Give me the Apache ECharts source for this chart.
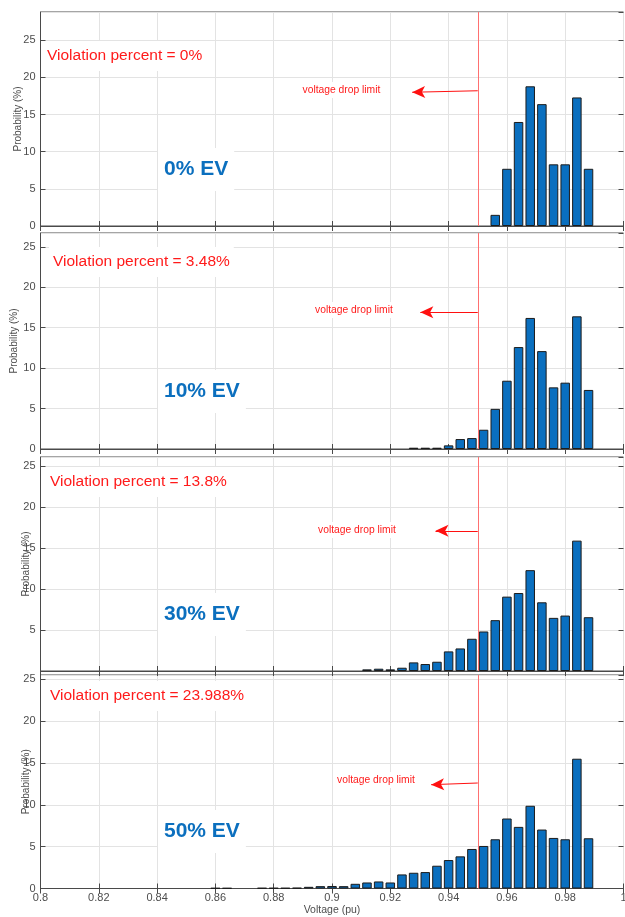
<html>
<head>
<meta charset="utf-8" />
<script src='https://cdn.jsdelivr.net/npm/echarts@6/dist/echarts.min.js'></script>
<style type="text/css">
	html, body, #main {
	width: 100%;
	height: 100%;
	margin: 0;
	background: #fff;
}
</style>
</head>
<body>
	<div id='main'></div>
	<script>
		// histogram bins (bin centre, pu) and probability (%) for each EV share
		var volt0 = [0.956, 0.960, 0.964, 0.968, 0.972, 0.976, 0.980, 0.984, 0.988];
		var prob0 = [1.5, 7.7, 14.0, 18.8, 16.4, 8.3, 8.3, 17.3, 7.7];

		var volt10 = [0.928, 0.932, 0.936, 0.940, 0.944, 0.948, 0.952, 0.956, 0.960, 0.964, 0.968, 0.972, 0.976, 0.980, 0.984, 0.988];
		var prob10 = [0.16, 0.16, 0.16, 0.45, 1.23, 1.35, 2.38, 4.96, 8.44, 12.6, 16.2, 12.1, 7.62, 8.2, 16.4, 7.3];

		var volt30 = [0.912, 0.916, 0.920, 0.924, 0.928, 0.932, 0.936, 0.940, 0.944, 0.948, 0.952, 0.956, 0.960, 0.964, 0.968, 0.972, 0.976, 0.980, 0.984, 0.988];
		var prob30 = [0.2, 0.28, 0.2, 0.4, 1.05, 0.85, 1.13, 2.39, 2.75, 3.93, 4.82, 6.2, 9.07, 9.51, 12.3, 8.38, 6.48, 6.76, 15.9, 6.56];

		var volt50 = [0.860, 0.864, 0.876, 0.880, 0.884, 0.888, 0.892, 0.896, 0.900, 0.904, 0.908, 0.912, 0.916, 0.920, 0.924, 0.928, 0.932, 0.936, 0.940, 0.944, 0.948, 0.952, 0.956, 0.960, 0.964, 0.968, 0.972, 0.976, 0.980, 0.984, 0.988];
		var prob50 = [0.05, 0.05, 0.06, 0.06, 0.06, 0.08, 0.2, 0.28, 0.3, 0.28, 0.56, 0.72, 0.84, 0.72, 1.68, 1.88, 1.96, 2.72, 3.4, 3.84, 4.72, 5.08, 5.88, 8.36, 7.36, 9.88, 7.04, 6.04, 5.88, 15.5, 6.0];

		var evLabels = ['0% EV', '10% EV', '30% EV', '50% EV'];
		var violation = ['0%', '3.48%', '13.8%', '23.988%'];

		var limitVoltage = 0.95;
		// arrow of the "voltage drop limit" note: tip voltage, start / tip probability
		var arrowTip = [0.9275, 0.9303, 0.9355, 0.934];
		var arrowStartY = [18.2, 16.9, 17.1, 12.6];
		var arrowEndY = [18.0, 16.9, 17.1, 12.4];

		var xTicks = { min: 0.8, max: 1.0, interval: 0.02 };
		var yTop = [28.8, 26.7, 26.1, 25.5];

		var volts = [volt0, volt10, volt30, volt50];
		var probs = [prob0, prob10, prob30, prob50];

		// layout
		var gLeft = 40.5, gWidth = 583;
		var gTops = [12, 233, 457, 675];
		var gHeights = [214, 216, 214, 213.5];
		var nameGaps = [17, 21, 9, 9];
		var noteX = [43, 49, 46, 46];
		var noteY = [57, 263, 483, 697];
		var evY = [170, 392, 615, 832];
		var limitTextX = [302.5, 315, 318, 337];
		var limitTextY = [91, 311, 531, 781];

		var fontFam = '"Liberation Sans", Arial, sans-serif';
		var axisCol = '#4a4a4a';
		var labelCol = '#4d4d4d';

		var chart = echarts.init(document.getElementById('main'));

		var grids = [], xAxes = [], yAxes = [], series = [], graphics = [];

		for (var i = 0; i < 4; i++) {
			grids.push({
				left: gLeft, top: gTops[i], width: gWidth, height: gHeights[i],
				show: true, borderColor: axisCol, borderWidth: 1,
				backgroundColor: '#fff',
				outerBoundsMode: 'none', containLabel: false
			});

			// bottom x axis
			xAxes.push({
				type: 'value', gridIndex: i, position: 'bottom',
				min: xTicks.min, max: xTicks.max, interval: xTicks.interval,
				axisLine: { show: true, onZero: false, lineStyle: { color: axisCol, width: 1 } },
				axisTick: { show: true, inside: true, length: 5, lineStyle: { color: axisCol } },
				axisLabel: {
					show: i === 3, color: labelCol, fontSize: 11, margin: 4, fontFamily: fontFam
				},
				splitLine: { show: true, lineStyle: { color: '#e3e3e3', width: 1 } },
				name: i === 3 ? 'Voltage (pu)' : '',
				nameLocation: 'middle', nameGap: 16, nameMoveOverlap: false,
				nameTextStyle: { color: labelCol, fontSize: 10.5, fontFamily: fontFam }
			});
			// top mirror axis (ticks only)
			xAxes.push({
				type: 'value', gridIndex: i, position: 'top',
				min: xTicks.min, max: xTicks.max, interval: xTicks.interval,
				axisLine: { show: false },
				axisTick: { show: true, inside: true, length: 5, lineStyle: { color: axisCol } },
				axisLabel: { show: false },
				splitLine: { show: false }
			});

			yAxes.push({
				type: 'value', gridIndex: i, position: 'left',
				min: 0, max: yTop[i], interval: 5,
				axisLine: { show: true, onZero: false, lineStyle: { color: axisCol, width: 1 } },
				axisTick: { show: true, inside: true, length: 5, lineStyle: { color: axisCol } },
				axisLabel: {
					color: labelCol, fontSize: 11, margin: 5, fontFamily: fontFam,
					showMaxLabel: false, showMinLabel: i !== 2,
					formatter: function (v) { return (v % 5 === 0) ? String(v) : ''; }
				},
				splitLine: { show: true, lineStyle: { color: '#e3e3e3', width: 1 } },
				name: 'Probability (%)', nameLocation: 'middle', nameRotate: 90,
				nameGap: nameGaps[i], nameMoveOverlap: false,
				nameTextStyle: { color: labelCol, fontSize: 10, fontFamily: fontFam }
			});
			yAxes.push({
				type: 'value', gridIndex: i, position: 'right',
				min: 0, max: yTop[i], interval: 5,
				axisLine: { show: false },
				axisTick: { show: true, inside: true, length: 5, lineStyle: { color: axisCol } },
				axisLabel: { show: false },
				splitLine: { show: false }
			});

			var pts = [];
			for (var k = 0; k < volts[i].length; k++) {
				pts.push([volts[i][k], probs[i][k]]);
			}

			series.push({
				type: 'bar', xAxisIndex: i * 2, yAxisIndex: i * 2,
				data: pts, barWidth: 9.5, z: 5,
				itemStyle: { color: '#0a6fbf', borderColor: '#1c1c1c', borderWidth: 1 },
				silent: true,
				markLine: {
					silent: true, animation: false, z: 120,
					label: { show: false },
					data: [
						[{ coord: [limitVoltage, 0], symbol: 'none' }, { coord: [limitVoltage, yTop[i]], symbol: 'none',
							lineStyle: { color: '#ff7070', width: 1, type: 'solid' } }],
						[{ coord: [limitVoltage, arrowStartY[i]], symbol: 'none' },
						 { coord: [arrowTip[i], arrowEndY[i]], symbol: 'arrow', symbolSize: [9, 13],
							lineStyle: { color: '#ff1010', width: 1, type: 'solid' } }]
					],
					lineStyle: { color: '#ff1010', width: 1, type: 'solid' },
					itemStyle: { color: '#ff1010' }
				}
			});

			graphics.push({
				type: 'text', left: noteX[i], top: noteY[i] - 16, z: 100,
				style: {
					text: 'Violation percent = ' + violation[i],
					fill: '#ff1a1a', fontSize: 15.5, fontFamily: fontFam,
					backgroundColor: '#fff', padding: [7, 4, 7, 4]
				}
			});
			graphics.push({
				type: 'text', left: 158, top: evY[i] - 22, z: 100,
				style: {
					text: evLabels[i],
					fill: '#0b6fbe', fontSize: 21, fontWeight: 'bold', fontFamily: fontFam,
					backgroundColor: '#fff', padding: [11, 6, 11, 6]
				}
			});
			graphics.push({
				type: 'text', left: limitTextX[i] - 3, top: limitTextY[i] - 9, z: 100,
				style: {
					text: 'voltage drop limit',
					fill: '#ff1a1a', fontSize: 10.3, fontFamily: fontFam,
					backgroundColor: '#fff', padding: [3, 3, 3, 3]
				}
			});
		}

		var option = {
			backgroundColor: '#fff',
			animation: false,
			grid: grids,
			xAxis: xAxes,
			yAxis: yAxes,
			series: series,
			graphic: graphics
		};

		chart.setOption(option);

		window.onresize = function() {
			chart.resize();
		}
	</script>
</body>
</html>
